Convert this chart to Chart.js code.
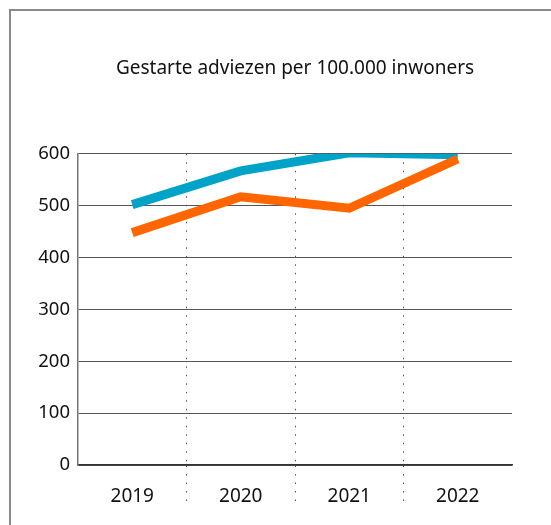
<!DOCTYPE html>
<html>
<head>
<meta charset="utf-8">
<script src="https://cdn.jsdelivr.net/npm/chart.js@4"></script>
<style>
  html, body { margin: 0; padding: 0; background: #fff; }
  #wrap { position: relative; width: 551px; height: 525px; }
  #frame { position: absolute; left: 9px; top: 9px; right: -10px; bottom: -10px;
           border-left: 2px solid #8a8a8a; border-top: 2px solid #8a8a8a; pointer-events: none; }
</style>
</head>
<body>
<div id="wrap">
  <canvas id="chartAdviezen"></canvas>
  <div id="frame"></div>
</div>
<script>
// Gegevens
const jaren = ['2019', '2020', '2021', '2022'];
const reeksOranje = [448, 517, 495, 590];
const reeksBlauw = [502, 567, 602, 598];
const yTicks = [0, 100, 200, 300, 400, 500, 600];
const titel = 'Gestarte adviezen per 100.000 inwoners';

const lettertype = 'Noto Sans';

// kleur voor de gestippelde scheidingslijnen tussen de jaren
function stippelKleur(ctx) {
    return (ctx.type === 'tick' && ctx.index > 0) ? '#555' : 'rgba(0,0,0,0)';
}

const ctx1 = document.getElementById('chartAdviezen').getContext('2d');
const chartAdviezen = new Chart(ctx1, {
    type: 'line',
    data: {
        labels: jaren,
        datasets: [
            {
                label: 'oranje',
                data: reeksOranje,
                borderColor: '#ff6600',
                borderWidth: 9,
                borderCapStyle: 'butt',
                pointRadius: 0,
                tension: 0,
                fill: false
            },
            {
                label: 'blauw',
                data: reeksBlauw,
                borderColor: '#00a3c8',
                borderWidth: 9,
                borderCapStyle: 'butt',
                pointRadius: 0,
                tension: 0,
                fill: false
            }
        ]
    },
    options: {
        responsive: true,
        maintainAspectRatio: false,
        animation: false,
        layout: {
            padding: { left: 0, right: 39, top: 0, bottom: 0 }
        },
        plugins: {
            legend: { display: false },
            tooltip: { enabled: false },
            title: {
                display: true,
                fullSize: false,   // titel gecentreerd boven het grafiekvlak
                text: titel,
                color: '#111',
                font: { family: lettertype, size: 19, weight: 'normal' },
                padding: { top: 57, bottom: 74 }
            }
        },
        scales: {
            x: {
                offset: true,
                grid: {
                    offset: true,
                    color: stippelKleur,
                    tickColor: stippelKleur,
                    lineWidth: 1,
                    tickLength: 40,
                    tickWidth: 1,
                    tickBorderDash: [1.5, 7]
                },
                border: { display: true, color: '#333', width: 1.5, dash: [1.5, 7] },
                ticks: {
                    padding: -20,
                    color: '#111',
                    font: { family: lettertype, size: 19 }
                },
                afterFit: function (s) { s.height = 60; }
            },
            y: {
                min: yTicks[0],
                max: yTicks[yTicks.length - 1],
                grid: { color: '#555', lineWidth: 1, drawTicks: false },
                border: { display: true, color: '#777', width: 1.5 },
                ticks: {
                    stepSize: yTicks[1] - yTicks[0],
                    padding: 8,
                    color: '#111',
                    font: { family: lettertype, size: 18.5 }
                },
                afterFit: function (s) { s.width = 78; }
            }
        }
    }
});
</script>
</body>
</html>
